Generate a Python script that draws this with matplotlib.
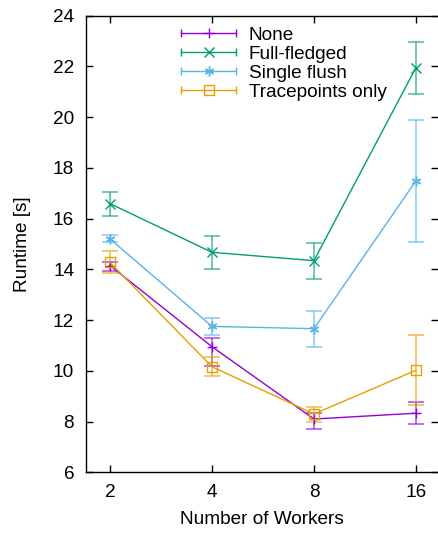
import matplotlib
matplotlib.use('Agg')
import matplotlib.pyplot as plt
from matplotlib.lines import Line2D
from matplotlib.legend_handler import HandlerBase

plt.rcParams['font.family'] = ['Liberation Sans', 'DejaVu Sans']

workers = ['2', '4', '8', '16']
labels = ['None', 'Full-fledged', 'Single flush', 'Tracepoints only']

none_mean = [14.15, 10.95, 8.10, 8.33]
none_lo = [13.95, 10.20, 7.71, 7.89]
none_hi = [14.30, 11.30, 8.33, 8.78]

full_mean = [16.59, 14.67, 14.34, 21.95]
full_lo = [16.10, 14.03, 13.63, 20.90]
full_hi = [17.05, 15.30, 15.02, 22.97]

single_mean = [15.20, 11.75, 11.66, 17.49]
single_lo = [15.06, 11.41, 10.95, 15.06]
single_hi = [15.34, 12.08, 12.36, 19.90]

trace_mean = [14.27, 10.16, 8.30, 10.02]
trace_lo = [13.85, 9.79, 8.00, 8.64]
trace_hi = [14.71, 10.55, 8.59, 11.41]

colors = ['#9400d3', '#009e73', '#56b4e9', '#e69f00']
markers = ['+', 'x', (6, 2, 0), 's']
fs = 13.7


class CapHandler(HandlerBase):
    # gnuplot style key entry: line with end caps and point in the middle
    def create_artists(self, legend, orig, xdescent, ydescent, width, height,
                       fontsize, trans):
        y = height / 2 - ydescent
        x0, x1 = -xdescent, width - xdescent
        c = orig.get_color()
        line = Line2D([x0, x1], [y, y], color=c, lw=1)
        caps = Line2D([x0, x1], [y, y], color=c, ls='none', marker='|',
                      ms=6, mew=1)
        pt = Line2D([(x0 + x1) / 2], [y], color=c, ls='none',
                    marker=orig.get_marker(), ms=orig.get_markersize(),
                    mew=1, mfc='none')
        for a in (line, caps, pt):
            a.set_transform(trans)
        return [line, caps, pt]


fig = plt.figure(figsize=(4.38, 5.34), dpi=100)
ax = fig.add_axes([0.1963, 0.1155, 0.8037, 0.8554])

series = [
    (none_mean, none_lo, none_hi),
    (full_mean, full_lo, full_hi),
    (single_mean, single_lo, single_hi),
    (trace_mean, trace_lo, trace_hi),
]
xs = list(range(len(workers)))
handles = []
for (m, lo, hi), c, mk, lab in zip(series, colors, markers, labels):
    err = [[a - b for a, b in zip(m, lo)], [b - a for a, b in zip(m, hi)]]
    ax.errorbar(xs, m, yerr=err, fmt='none', ecolor=c, elinewidth=1.2,
                capsize=5.5, capthick=1.2, alpha=0.65, zorder=2)
    ln, = ax.plot(xs, m, color=c, lw=1, marker=mk, ms=7, mew=1,
                  mfc='none', label=lab, zorder=3)
    handles.append(ln)

ax.set_xlim(-0.235, 3.216)
ax.set_ylim(6, 24)
ax.set_xticks(xs)
ax.set_xticklabels(workers)
ax.set_yticks(range(6, 25, 2))
ax.tick_params(direction='in', length=5, width=1, top=True, right=True,
               labelsize=fs, pad=8.5)
for s in ax.spines.values():
    s.set_linewidth(1)
ax.spines['right'].set_visible(False)

ax.set_xlabel('Number of Workers', fontsize=fs)
ax.set_ylabel('Runtime [s]', fontsize=fs)
ax.xaxis.set_label_coords(0.5, -0.085)
ax.yaxis.set_label_coords(-0.155, 0.5)

ax.legend(handles=handles, handler_map={Line2D: CapHandler()},
          loc='upper left', bbox_to_anchor=(0.27, 0.976), frameon=False,
          fontsize=fs, handlelength=2.9, handletextpad=0.65,
          labelspacing=0.09, borderpad=0, borderaxespad=0)

fig.savefig('out.png', dpi=100)
